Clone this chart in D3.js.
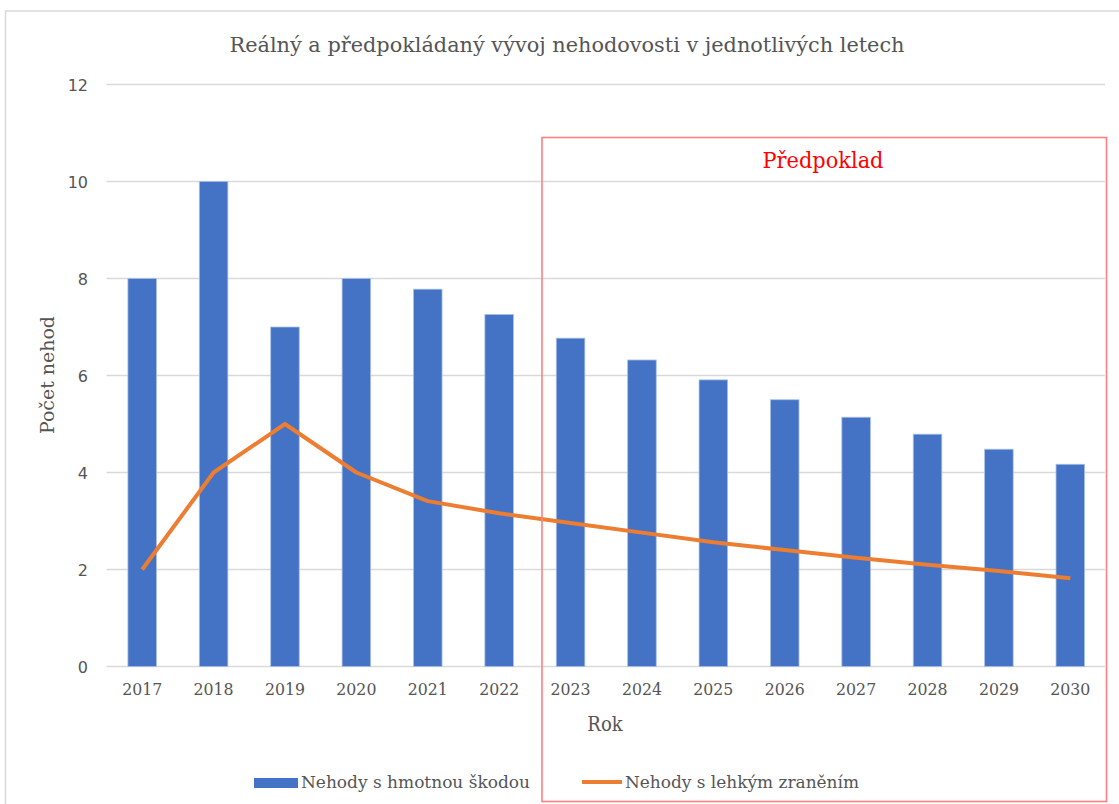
<!DOCTYPE html>
<html><head><meta charset="utf-8">
<script src="https://cdn.jsdelivr.net/npm/d3@7"></script>
<style>body{margin:0;background:#fff;} svg{display:block;}</style>
</head><body>
<svg id="chart" width="1119" height="804"></svg>
<script>
const years = ["2017","2018","2019","2020","2021","2022","2023","2024","2025","2026","2027","2028","2029","2030"];
const hmotnaSkoda = [8, 10, 7.0, 8, 7.78, 7.26, 6.77, 6.32, 5.91, 5.50, 5.14, 4.79, 4.48, 4.17];
const lehkeZraneni = [2, 4, 5, 4, 3.41, 3.16, 2.96, 2.76, 2.56, 2.40, 2.24, 2.10, 1.97, 1.82];
const yTicks = [0, 2, 4, 6, 8, 10, 12];
const forecastStart = "2023";
const titleText = "Reálný a předpokládaný vývoj nehodovosti v jednotlivých letech";
const seriesNames = ["Nehody s hmotnou škodou", "Nehody s lehkým zraněním"];

const svg = d3.select("#chart");
const serif = "'DejaVu Serif Condensed', 'DejaVu Serif', serif";
const sans = "'DejaVu Sans', Verdana, sans-serif";
const textCol = "#555555";

// outer chart border
svg.append("rect").attr("x", 5.5).attr("y", 11).attr("width", 1130).attr("height", 820)
  .attr("fill", "none").attr("stroke", "#d9d9d9").attr("stroke-width", 1.5);

const x = d3.scaleBand().domain(years).range([106.5, 1106]).paddingInner(0.6).paddingOuter(0.3);
const y = d3.scaleLinear().domain([0, 12]).range([666.5, 84.5]);

// gridlines
svg.append("g").selectAll("line").data(yTicks).join("line")
  .attr("x1", 106.5).attr("x2", 1105).attr("y1", d => y(d)).attr("y2", d => y(d))
  .attr("stroke", "#d9d9d9").attr("stroke-width", 1.3);

// y axis labels
const yAxis = d3.axisLeft(y).tickValues(yTicks).tickSize(0).tickPadding(0);
const gy = svg.append("g").attr("transform", "translate(88,0)").call(yAxis);
gy.select(".domain").remove();
gy.selectAll("text").attr("font-family", sans).attr("font-size", 16).attr("fill", textCol).attr("dy", "0.35em");

// x axis labels
const xAxis = d3.axisBottom(x).tickSize(0).tickPadding(0);
const gx = svg.append("g").attr("transform", "translate(0,682)").call(xAxis);
gx.select(".domain").remove();
gx.selectAll("text").attr("font-family", serif).attr("font-size", 17.5).attr("fill", textCol).attr("dy", "0.75em");

// bars
svg.append("g").selectAll("rect").data(years).join("rect")
  .attr("x", d => x(d)).attr("width", x.bandwidth())
  .attr("y", (d, i) => y(hmotnaSkoda[i])).attr("height", (d, i) => y(0) - y(hmotnaSkoda[i]))
  .attr("fill", "#4472c4").attr("stroke", "#a9c0ea").attr("stroke-width", 0.8);

// line
const line = d3.line().x((d, i) => x(years[i]) + x.bandwidth() / 2).y(d => y(d));
svg.append("path").datum(lehkeZraneni).attr("d", line)
  .attr("fill", "none").attr("stroke", "#ed7d31").attr("stroke-width", 4).attr("stroke-linejoin", "round");

// forecast box
const bx = x(forecastStart) - x.bandwidth() / 2;
svg.append("rect").attr("x", bx).attr("y", 137.5).attr("width", 1106.5 - bx).attr("height", 664)
  .attr("fill", "none").attr("stroke", "#ff8080").attr("stroke-width", 1.6);
svg.append("text").attr("x", 823).attr("y", 168).attr("text-anchor", "middle")
  .attr("font-family", serif).attr("font-size", 22).attr("fill", "#ff0000")
  .attr("textLength", 121).attr("lengthAdjust", "spacingAndGlyphs").text("Předpoklad");

// title
svg.append("text").attr("x", 567).attr("y", 52).attr("text-anchor", "middle")
  .attr("font-family", serif).attr("font-size", 21).attr("fill", textCol)
  .attr("textLength", 675).attr("lengthAdjust", "spacingAndGlyphs").text(titleText);

// axis titles
svg.append("text").attr("x", 605).attr("y", 731).attr("text-anchor", "middle")
  .attr("font-family", serif).attr("font-size", 20).attr("fill", textCol).text("Rok");
svg.append("text").attr("transform", "translate(54,375) rotate(-90)").attr("text-anchor", "middle")
  .attr("font-family", serif).attr("font-size", 19).attr("fill", textCol)
  .attr("textLength", 118).attr("lengthAdjust", "spacingAndGlyphs").text("Počet nehod");

// legend
svg.append("rect").attr("x", 254).attr("y", 778).attr("width", 44).attr("height", 10).attr("fill", "#4472c4");
svg.append("text").attr("x", 301).attr("y", 788).attr("font-family", serif).attr("font-size", 17).attr("fill", textCol)
  .attr("textLength", 229).attr("lengthAdjust", "spacingAndGlyphs").text(seriesNames[0]);
svg.append("line").attr("x1", 582).attr("x2", 622).attr("y1", 782).attr("y2", 782)
  .attr("stroke", "#ed7d31").attr("stroke-width", 4);
svg.append("text").attr("x", 625).attr("y", 788).attr("font-family", serif).attr("font-size", 17).attr("fill", textCol)
  .attr("textLength", 234).attr("lengthAdjust", "spacingAndGlyphs").text(seriesNames[1]);
</script>
</body></html>
